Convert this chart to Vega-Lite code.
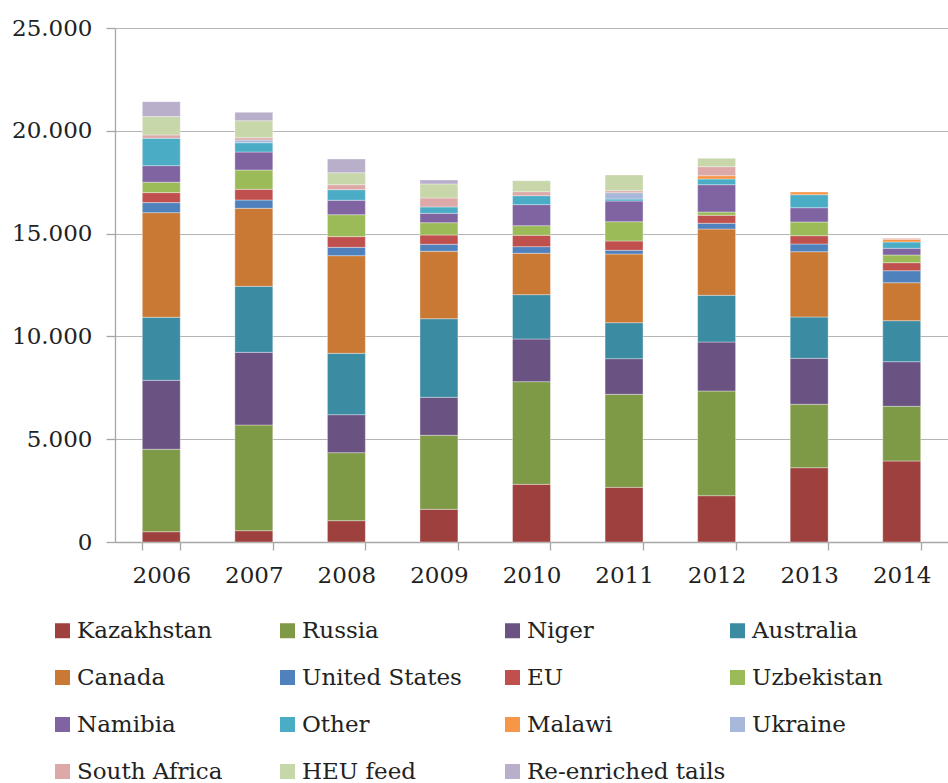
{
  "$schema": "https://vega.github.io/schema/vega-lite/v6.json",
  "autosize": {"type": "none"},
  "width": 833,
  "height": 514,
  "padding": {"left": 115, "top": 28, "right": 0, "bottom": 241},
  "background": "white",
  "data": {"values": [
    {"year": "2006", "source": "Kazakhstan", "value": 500},
    {"year": "2006", "source": "Russia", "value": 4010},
    {"year": "2006", "source": "Niger", "value": 3355},
    {"year": "2006", "source": "Australia", "value": 3065},
    {"year": "2006", "source": "Canada", "value": 5090},
    {"year": "2006", "source": "United States", "value": 487},
    {"year": "2006", "source": "EU", "value": 486},
    {"year": "2006", "source": "Uzbekistan", "value": 506},
    {"year": "2006", "source": "Namibia", "value": 807},
    {"year": "2006", "source": "Other", "value": 1333},
    {"year": "2006", "source": "South Africa", "value": 160},
    {"year": "2006", "source": "HEU feed", "value": 891},
    {"year": "2006", "source": "Re-enriched tails", "value": 729},

    {"year": "2007", "source": "Kazakhstan", "value": 550},
    {"year": "2007", "source": "Russia", "value": 5140},
    {"year": "2007", "source": "Niger", "value": 3536},
    {"year": "2007", "source": "Australia", "value": 3210},
    {"year": "2007", "source": "Canada", "value": 3794},
    {"year": "2007", "source": "United States", "value": 404},
    {"year": "2007", "source": "EU", "value": 520},
    {"year": "2007", "source": "Uzbekistan", "value": 939},
    {"year": "2007", "source": "Namibia", "value": 876},
    {"year": "2007", "source": "Other", "value": 452},
    {"year": "2007", "source": "Ukraine", "value": 130},
    {"year": "2007", "source": "South Africa", "value": 112},
    {"year": "2007", "source": "HEU feed", "value": 827},
    {"year": "2007", "source": "Re-enriched tails", "value": 409},

    {"year": "2008", "source": "Kazakhstan", "value": 1037},
    {"year": "2008", "source": "Russia", "value": 3308},
    {"year": "2008", "source": "Niger", "value": 1848},
    {"year": "2008", "source": "Australia", "value": 2984},
    {"year": "2008", "source": "Canada", "value": 4750},
    {"year": "2008", "source": "United States", "value": 406},
    {"year": "2008", "source": "EU", "value": 520},
    {"year": "2008", "source": "Uzbekistan", "value": 1068},
    {"year": "2008", "source": "Namibia", "value": 699},
    {"year": "2008", "source": "Other", "value": 516},
    {"year": "2008", "source": "South Africa", "value": 243},
    {"year": "2008", "source": "HEU feed", "value": 584},
    {"year": "2008", "source": "Re-enriched tails", "value": 666},

    {"year": "2009", "source": "Kazakhstan", "value": 1590},
    {"year": "2009", "source": "Russia", "value": 3600},
    {"year": "2009", "source": "Niger", "value": 1848},
    {"year": "2009", "source": "Australia", "value": 3823},
    {"year": "2009", "source": "Canada", "value": 3279},
    {"year": "2009", "source": "United States", "value": 340},
    {"year": "2009", "source": "EU", "value": 452},
    {"year": "2009", "source": "Uzbekistan", "value": 599},
    {"year": "2009", "source": "Namibia", "value": 457},
    {"year": "2009", "source": "Other", "value": 310},
    {"year": "2009", "source": "South Africa", "value": 438},
    {"year": "2009", "source": "HEU feed", "value": 681},
    {"year": "2009", "source": "Re-enriched tails", "value": 195},

    {"year": "2010", "source": "Kazakhstan", "value": 2805},
    {"year": "2010", "source": "Russia", "value": 4994},
    {"year": "2010", "source": "Niger", "value": 2075},
    {"year": "2010", "source": "Australia", "value": 2157},
    {"year": "2010", "source": "Canada", "value": 2011},
    {"year": "2010", "source": "United States", "value": 323},
    {"year": "2010", "source": "EU", "value": 552},
    {"year": "2010", "source": "Uzbekistan", "value": 470},
    {"year": "2010", "source": "Namibia", "value": 1022},
    {"year": "2010", "source": "Other", "value": 435},
    {"year": "2010", "source": "South Africa", "value": 195},
    {"year": "2010", "source": "HEU feed", "value": 535},

    {"year": "2011", "source": "Kazakhstan", "value": 2659},
    {"year": "2011", "source": "Russia", "value": 4524},
    {"year": "2011", "source": "Niger", "value": 1734},
    {"year": "2011", "source": "Australia", "value": 1751},
    {"year": "2011", "source": "Canada", "value": 3340},
    {"year": "2011", "source": "United States", "value": 180},
    {"year": "2011", "source": "EU", "value": 453},
    {"year": "2011", "source": "Uzbekistan", "value": 939},
    {"year": "2011", "source": "Namibia", "value": 1006},
    {"year": "2011", "source": "Other", "value": 98},
    {"year": "2011", "source": "Ukraine", "value": 306},
    {"year": "2011", "source": "South Africa", "value": 97},
    {"year": "2011", "source": "HEU feed", "value": 764},

    {"year": "2012", "source": "Kazakhstan", "value": 2252},
    {"year": "2012", "source": "Russia", "value": 5093},
    {"year": "2012", "source": "Niger", "value": 2383},
    {"year": "2012", "source": "Australia", "value": 2271},
    {"year": "2012", "source": "Canada", "value": 3225},
    {"year": "2012", "source": "United States", "value": 278},
    {"year": "2012", "source": "EU", "value": 389},
    {"year": "2012", "source": "Uzbekistan", "value": 160},
    {"year": "2012", "source": "Namibia", "value": 1328},
    {"year": "2012", "source": "Other", "value": 277},
    {"year": "2012", "source": "Malawi", "value": 161},
    {"year": "2012", "source": "South Africa", "value": 438},
    {"year": "2012", "source": "HEU feed", "value": 408},

    {"year": "2013", "source": "Kazakhstan", "value": 3614},
    {"year": "2013", "source": "Russia", "value": 3084},
    {"year": "2013", "source": "Niger", "value": 2237},
    {"year": "2013", "source": "Australia", "value": 2009},
    {"year": "2013", "source": "Canada", "value": 3176},
    {"year": "2013", "source": "United States", "value": 375},
    {"year": "2013", "source": "EU", "value": 404},
    {"year": "2013", "source": "Uzbekistan", "value": 666},
    {"year": "2013", "source": "Namibia", "value": 695},
    {"year": "2013", "source": "Other", "value": 633},
    {"year": "2013", "source": "Malawi", "value": 131},

    {"year": "2014", "source": "Kazakhstan", "value": 3940},
    {"year": "2014", "source": "Russia", "value": 2660},
    {"year": "2014", "source": "Niger", "value": 2170},
    {"year": "2014", "source": "Australia", "value": 1994},
    {"year": "2014", "source": "Canada", "value": 1848},
    {"year": "2014", "source": "United States", "value": 584},
    {"year": "2014", "source": "EU", "value": 389},
    {"year": "2014", "source": "Uzbekistan", "value": 375},
    {"year": "2014", "source": "Namibia", "value": 326},
    {"year": "2014", "source": "Other", "value": 306},
    {"year": "2014", "source": "Malawi", "value": 131},
    {"year": "2014", "source": "South Africa", "value": 50}
  ]},
  "transform": [
    {"calculate": "indexof(['Kazakhstan', 'Russia', 'Niger', 'Australia', 'Canada', 'United States', 'EU', 'Uzbekistan', 'Namibia', 'Other', 'Malawi', 'Ukraine', 'South Africa', 'HEU feed', 'Re-enriched tails'], datum.source)", "as": "stackOrder"}
  ],
  "mark": {"type": "bar", "stroke": "#ffffff", "strokeWidth": 0.6, "strokeOpacity": 0.6},
  "encoding": {
    "x": {
      "field": "year", "type": "ordinal", "title": null,
      "scale": {"paddingInner": 0.59, "paddingOuter": 0.295},
      "axis": {
        "labelAngle": 0, "labelFont": "DejaVu Serif", "labelFontSize": 23, "labelColor": "#222222",
        "labelPadding": 14, "tickBand": "extent", "tickSize": 8, "tickColor": "#a6a6a6", "tickWidth": 1.3,
        "domainColor": "#a6a6a6", "domainWidth": 1.3, "grid": false
      }
    },
    "y": {
      "field": "value", "type": "quantitative", "title": null, "stack": "zero",
      "scale": {"domain": [0, 25000], "nice": false},
      "axis": {
        "values": [0, 5000, 10000, 15000, 20000, 25000],
        "labelExpr": "replace(format(datum.value, ','), ',', '.')",
        "labelFont": "DejaVu Serif", "labelFontSize": 23, "labelColor": "#222222", "labelPadding": 14,
        "tickSize": 9, "tickColor": "#a6a6a6", "tickWidth": 1.3,
        "domainColor": "#a6a6a6", "domainWidth": 1.3,
        "grid": true, "gridColor": "#b4b4b4", "gridWidth": 1.1
      }
    },
    "order": {"field": "stackOrder", "type": "quantitative", "sort": "ascending"},
    "color": {
      "field": "source", "type": "nominal", "title": null,
      "scale": {
        "domain": ["Kazakhstan", "Russia", "Niger", "Australia", "Canada", "United States", "EU", "Uzbekistan", "Namibia", "Other", "Malawi", "Ukraine", "South Africa", "HEU feed", "Re-enriched tails"],
        "range": ["#9e403e", "#7f9a47", "#6a5283", "#3b8ba3", "#c97934", "#4f81bd", "#c0504d", "#9bbb59", "#8064a2", "#4bacc6", "#f79646", "#a7b8da", "#dca9a8", "#c7d7aa", "#b9afcb"]
      },
      "legend": {
        "orient": "none", "legendX": -64, "legendY": 591,
        "direction": "horizontal", "columns": 4, "gridAlign": "all",
        "symbolType": "square", "symbolSize": 225, "symbolStrokeWidth": 0,
        "labelFont": "DejaVu Serif", "labelFontSize": 23, "labelColor": "#222222",
        "labelOffset": 3, "columnPadding": -15, "rowPadding": 23, "labelLimit": 300
      }
    }
  },
  "config": {"view": {"stroke": null}, "legend": {"offset": 0}}
}
